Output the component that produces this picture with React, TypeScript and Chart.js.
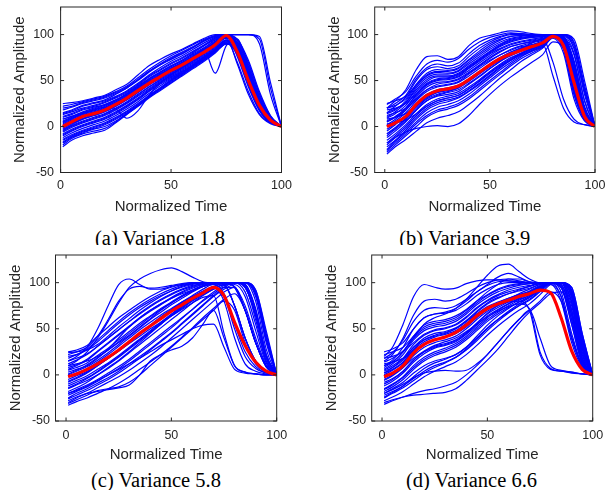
import React, { useEffect, useRef } from "react";
import { Chart, registerables } from "chart.js";

Chart.register(...registerables);

// ---------- data ----------
const TIME = [1, 5, 10, 15, 20, 25, 30, 35, 40, 45, 50, 55, 60, 65, 70, 75, 80, 85, 90, 95, 100];
const X_TICKS = [0, 50, 100];
const Y_TICKS = [-50, 0, 50, 100];
const Y_MIN = -50;
const Y_MAX = 130;
const X_MAX = 100;
const X_LABEL = "Normalized Time";
const Y_LABEL = "Normalized Amplitude";
const CAPTIONS = ["(a) Variance 1.8", "(b) Variance 3.9", "(c) Variance 5.8", "(d) Variance 6.6"];

const MEAN_A = [0, 5, 11, 14, 18, 24, 31, 39, 47, 54, 61, 67, 74, 81, 89, 99, 81, 50, 23, 7, 0];
const SAMPLES_A = [
  [25, 26, 28, 31, 34, 40, 46, 56, 66, 73, 79, 84, 90, 96, 100, 100, 80, 45, 18, 5, 0],
  [22, 24, 27, 30, 33, 38, 44, 53, 62, 70, 77, 83, 89, 95, 99, 100, 85, 55, 25, 8, 0],
  [18, 21, 25, 28, 31, 36, 42, 50, 59, 67, 74, 80, 86, 93, 98, 100, 92, 65, 32, 10, 0],
  [14, 17, 22, 25, 28, 33, 39, 47, 56, 64, 71, 77, 84, 91, 97, 100, 88, 58, 27, 8, 0],
  [11, 14, 19, 22, 26, 31, 37, 45, 54, 61, 68, 74, 81, 88, 95, 100, 84, 52, 22, 6, 0],
  [8, 11, 16, 20, 24, 29, 35, 43, 51, 58, 65, 71, 78, 85, 93, 96, 68, 35, 13, 3, 0],
  [5, 9, 14, 17, 21, 27, 33, 41, 49, 56, 63, 69, 76, 83, 91, 99, 76, 43, 17, 4, 0],
  [3, 7, 12, 15, 19, 25, 32, 40, 48, 55, 62, 68, 75, 82, 90, 100, 95, 72, 38, 12, 0],
  [1, 5, 11, 14, 18, 23, 30, 38, 46, 53, 60, 66, 73, 80, 88, 98, 86, 57, 27, 8, 0],
  [-2, 3, 8, 12, 16, 22, 29, 37, 45, 52, 59, 65, 72, 79, 87, 97, 84, 55, 26, 7, 0],
  [-4, 1, 6, 10, 14, 20, 27, 35, 43, 50, 57, 64, 71, 78, 86, 96, 89, 62, 30, 9, 0],
  [-6, -1, 4, 8, 12, 18, 25, 33, 41, 49, 56, 63, 70, 77, 85, 94, 70, 38, 14, 4, 0],
  [-8, -3, 2, 6, 10, 16, 23, 31, 40, 48, 55, 62, 69, 76, 84, 94, 92, 68, 35, 11, 0],
  [-10, -5, 0, 4, 8, 14, 21, 29, 38, 46, 53, 60, 67, 75, 83, 93, 85, 58, 28, 8, 0],
  [-12, -7, -2, 2, 6, 12, 19, 27, 36, 44, 52, 59, 66, 74, 82, 92, 90, 65, 33, 10, 0],
  [-14, -9, -4, 0, 4, 10, 17, 25, 34, 42, 50, 57, 65, 73, 81, 91, 78, 47, 19, 5, 0],
  [-17, -11, -6, -2, 2, 8, 15, 23, 32, 40, 48, 56, 64, 72, 81, 90, 87, 60, 29, 8, 0],
  [-20, -13, -8, -5, -2, 5, 14, 23, 33, 42, 51, 59, 67, 75, 83, 91, 83, 55, 25, 7, 0],
  [-22, -15, -10, -7, -4, 4, 13, 22, 32, 41, 50, 58, 66, 74, 82, 90, 80, 50, 22, 6, 0],
  [15, 18, 23, 26, 29, 35, 42, 51, 60, 67, 73, 79, 86, 93, 98, 100, 100, 100, 98, 48, 0],
  [5, 9, 14, 18, 22, 28, 35, 43, 52, 59, 66, 72, 80, 88, 96, 100, 100, 100, 95, 42, 0],
  [-5, 0, 5, 9, 13, 19, 26, 34, 43, 51, 58, 65, 73, 82, 92, 100, 100, 100, 90, 35, 0],
  [8, 11, 15, 18, 21, 19, 9, 17, 34, 47, 56, 64, 72, 80, 88, 98, 84, 54, 24, 7, 0],
  [-3, 2, 8, 12, 16, 22, 29, 37, 46, 53, 61, 68, 76, 83, 58, 88, 95, 65, 30, 9, 0],
  [4, 8, 13, 16, 20, 26, 33, 41, 49, 56, 63, 69, 76, 84, 92, 100, 90, 60, 28, 8, 0],
  [-1, 4, 9, 13, 17, 23, 30, 38, 47, 54, 61, 67, 74, 81, 89, 98, 82, 50, 22, 6, 0],
  [10, 13, 18, 21, 24, 29, 36, 44, 52, 59, 66, 72, 79, 86, 94, 100, 87, 55, 24, 7, 0],
  [-9, -4, 1, 5, 9, 15, 22, 30, 39, 47, 54, 61, 68, 76, 84, 94, 88, 60, 29, 9, 0],
  [13, 16, 20, 23, 27, 32, 38, 46, 55, 62, 69, 75, 82, 89, 96, 100, 94, 70, 36, 11, 0],
  [-15, -10, -5, -1, 3, 9, 16, 24, 33, 41, 49, 57, 65, 73, 82, 92, 86, 57, 26, 7, 0],
  [6, 10, 15, 19, 23, 28, 34, 42, 50, 57, 64, 70, 77, 84, 92, 100, 82, 50, 21, 6, 0],
  [20, 22, 26, 29, 32, 37, 43, 51, 60, 68, 75, 81, 87, 94, 99, 100, 90, 62, 30, 9, 0],
  [-18, -12, -7, -3, 0, 6, 14, 22, 31, 39, 47, 55, 63, 71, 80, 90, 85, 56, 26, 7, 0],
  [2, 6, 11, 15, 19, 24, 31, 39, 48, 55, 62, 68, 75, 82, 90, 99, 79, 46, 19, 5, 0],
];

const MEAN_B = [0, 4, 11, 24, 34, 39, 41, 44, 51, 59, 67, 74, 79, 83, 87, 91, 98, 88, 48, 11, 0];
const SAMPLES_B = [
  [20, 28, 40, 62, 76, 77, 73, 76, 88, 96, 99, 102, 104, 103, 101, 100, 100, 98, 70, 20, 0],
  [24, 30, 38, 55, 68, 72, 70, 74, 84, 92, 97, 100, 102, 101, 100, 100, 100, 100, 90, 42, 0],
  [15, 22, 32, 50, 62, 65, 63, 66, 76, 85, 92, 97, 100, 100, 99, 99, 99, 90, 48, 12, 0],
  [25, 28, 33, 45, 56, 60, 60, 63, 72, 80, 88, 94, 98, 99, 99, 99, 100, 96, 65, 18, 0],
  [10, 16, 26, 42, 53, 57, 57, 60, 68, 76, 84, 90, 95, 97, 98, 99, 99, 85, 35, 8, 0],
  [18, 20, 25, 36, 47, 52, 53, 56, 64, 72, 80, 87, 92, 95, 97, 98, 100, 100, 92, 45, 0],
  [5, 10, 20, 34, 45, 50, 51, 54, 61, 69, 77, 84, 89, 92, 94, 96, 99, 93, 50, 12, 0],
  [12, 15, 20, 30, 40, 46, 48, 51, 58, 66, 74, 81, 87, 90, 93, 95, 100, 98, 72, 22, 0],
  [0, 6, 15, 28, 38, 43, 45, 48, 55, 63, 71, 78, 84, 88, 91, 94, 99, 90, 45, 10, 0],
  [-5, 2, 12, 25, 35, 40, 42, 45, 52, 60, 68, 75, 81, 86, 89, 92, 98, 88, 40, 9, 0],
  [8, 10, 14, 22, 31, 37, 40, 43, 50, 58, 66, 73, 79, 84, 88, 92, 100, 97, 68, 20, 0],
  [-10, -3, 6, 18, 28, 34, 37, 40, 47, 55, 63, 71, 78, 83, 87, 91, 99, 95, 60, 16, 0],
  [-15, -8, 2, 14, 24, 30, 33, 36, 43, 51, 60, 68, 75, 80, 85, 89, 97, 86, 38, 8, 0],
  [-20, -12, -2, 10, 20, 26, 29, 32, 39, 47, 56, 65, 72, 78, 83, 88, 99, 99, 85, 38, 0],
  [3, 4, 7, 14, 22, 28, 31, 34, 41, 50, 59, 67, 74, 80, 85, 90, 100, 92, 50, 12, 0],
  [-25, -16, -6, 5, 15, 21, 24, 28, 35, 44, 53, 62, 70, 77, 82, 87, 98, 90, 46, 11, 0],
  [-28, -20, -10, 0, 10, 16, 19, 23, 30, 39, 48, 57, 66, 74, 80, 86, 97, 84, 35, 7, 0],
  [-30, -22, -14, -5, 4, 9, 12, 16, 24, 33, 43, 53, 62, 71, 78, 85, 96, 80, 30, 6, 0],
  [-18, -12, -6, -2, 0, 1, 0, 3, 12, 24, 35, 45, 54, 62, 70, 78, 92, 85, 40, 9, 0],
  [5, 10, 18, 30, 40, 44, 46, 49, 57, 65, 72, 78, 83, 87, 88, 90, 55, 20, 5, 2, 0],
  [-8, -2, 8, 20, 30, 35, 38, 42, 50, 58, 66, 73, 79, 85, 91, 95, 70, 30, 8, 2, 0],
  [20, 25, 34, 52, 64, 68, 66, 69, 79, 88, 94, 98, 101, 101, 100, 100, 100, 100, 95, 50, 0],
  [-22, -15, -4, 8, 18, 24, 27, 31, 38, 46, 55, 64, 72, 79, 84, 89, 99, 97, 78, 28, 0],
  [14, 18, 28, 44, 55, 59, 58, 61, 70, 78, 86, 92, 96, 98, 99, 100, 100, 95, 58, 15, 0],
  [2, 8, 18, 32, 43, 48, 49, 52, 59, 67, 75, 82, 87, 90, 92, 95, 99, 95, 58, 15, 0],
  [-12, -5, 5, 18, 28, 33, 35, 38, 46, 54, 63, 71, 77, 82, 86, 90, 99, 96, 65, 18, 0],
  [9, 14, 23, 38, 49, 54, 54, 57, 65, 73, 81, 88, 93, 96, 97, 98, 100, 97, 62, 16, 0],
  [-3, 3, 12, 24, 34, 39, 41, 44, 51, 59, 67, 75, 81, 85, 89, 93, 100, 98, 70, 20, 0],
  [20, 23, 30, 46, 58, 62, 61, 64, 73, 82, 90, 95, 98, 99, 99, 100, 100, 99, 80, 28, 0],
  [-18, -10, 0, 12, 22, 28, 31, 34, 41, 49, 58, 66, 73, 79, 84, 89, 98, 92, 52, 13, 0],
  [6, 11, 20, 35, 46, 51, 52, 55, 63, 71, 79, 85, 90, 93, 95, 97, 100, 100, 85, 35, 0],
  [-8, -1, 9, 22, 32, 37, 39, 42, 49, 57, 65, 72, 78, 83, 87, 91, 99, 94, 55, 14, 0],
  [15, 19, 26, 40, 51, 55, 55, 58, 66, 74, 82, 89, 94, 96, 98, 99, 100, 100, 88, 40, 0],
  [-26, -18, -8, 3, 12, 18, 21, 25, 32, 41, 50, 59, 68, 76, 82, 87, 98, 93, 55, 14, 0],
];

const MEAN_C = [-2, 1, 6, 12, 19, 27, 36, 45, 53, 61, 69, 76, 83, 89, 95, 86, 57, 32, 14, 4, 0];
const SAMPLES_C = [
  [10, 15, 25, 40, 58, 78, 95, 104, 110, 114, 116, 112, 106, 101, 100, 100, 100, 100, 90, 42, 0],
  [15, 20, 30, 50, 75, 98, 104, 98, 93, 93, 96, 98, 99, 100, 100, 100, 100, 97, 65, 18, 0],
  [22, 25, 30, 42, 60, 80, 93, 96, 94, 95, 97, 99, 100, 100, 100, 100, 100, 98, 70, 22, 0],
  [25, 27, 32, 42, 52, 62, 70, 78, 85, 91, 95, 98, 100, 100, 100, 100, 100, 100, 88, 40, 0],
  [18, 22, 28, 38, 48, 58, 67, 75, 82, 88, 93, 97, 99, 100, 100, 100, 95, 70, 35, 9, 0],
  [24, 25, 27, 33, 42, 52, 61, 70, 78, 85, 91, 96, 99, 100, 100, 100, 100, 95, 65, 20, 0],
  [12, 16, 22, 31, 40, 49, 58, 66, 74, 81, 87, 92, 96, 99, 100, 98, 75, 40, 15, 4, 0],
  [8, 11, 17, 26, 35, 44, 53, 62, 70, 77, 84, 90, 95, 98, 100, 100, 100, 100, 88, 40, 0],
  [5, 8, 13, 21, 29, 38, 47, 56, 64, 72, 79, 86, 92, 97, 100, 100, 95, 70, 35, 9, 0],
  [0, 4, 9, 16, 24, 33, 42, 51, 60, 68, 76, 83, 90, 96, 100, 100, 100, 95, 65, 20, 0],
  [-5, -1, 4, 11, 18, 27, 36, 45, 54, 63, 71, 79, 86, 93, 98, 97, 75, 40, 15, 4, 0],
  [-10, -6, -1, 6, 13, 21, 30, 39, 48, 57, 66, 75, 83, 90, 95, 80, 40, 12, 4, 1, 0],
  [-15, -11, -6, 0, 7, 15, 24, 33, 42, 51, 60, 69, 78, 86, 93, 98, 75, 40, 15, 4, 0],
  [-20, -16, -11, -5, 2, 9, 17, 26, 35, 44, 53, 62, 71, 80, 88, 95, 95, 70, 35, 9, 0],
  [-25, -20, -15, -9, -3, 4, 12, 20, 28, 37, 46, 56, 66, 76, 86, 95, 100, 95, 65, 20, 0],
  [-30, -25, -20, -14, -8, -2, 5, 13, 21, 30, 40, 50, 60, 70, 80, 90, 95, 70, 35, 9, 0],
  [-33, -29, -25, -20, -15, -9, -2, 6, 14, 22, 31, 41, 51, 62, 72, 82, 88, 70, 35, 9, 0],
  [-28, -24, -20, -18, -16, -14, -11, 0, 15, 22, 27, 31, 40, 55, 70, 40, 10, 3, 1, 0, 0],
  [-8, -4, 2, 10, 18, 26, 34, 42, 50, 57, 64, 71, 78, 84, 86, 45, 10, 3, 1, 0, 0],
  [-20, -17, -12, -6, 0, 6, 12, 18, 25, 32, 38, 44, 50, 54, 55, 30, 6, 2, 1, 0, 0],
  [3, 6, 10, 18, 28, 40, 52, 62, 70, 77, 83, 88, 92, 96, 99, 100, 100, 100, 92, 45, 0],
  [-12, -8, -3, 4, 12, 20, 29, 38, 47, 56, 65, 74, 82, 89, 95, 100, 100, 98, 70, 22, 0],
  [10, 12, 15, 20, 27, 35, 43, 52, 61, 70, 78, 85, 91, 96, 98, 88, 55, 25, 9, 2, 0],
  [-2, 2, 7, 14, 22, 31, 40, 49, 57, 65, 72, 79, 85, 90, 94, 85, 50, 20, 7, 2, 0],
  [-31, -27, -22, -17, -15, -13, -8, 0, 10, 20, 30, 40, 50, 60, 70, 80, 70, 35, 12, 3, 0],
  [-18, -14, -8, 0, 8, 16, 25, 35, 45, 55, 64, 73, 81, 88, 94, 98, 100, 100, 85, 35, 0],
  [6, 10, 16, 25, 34, 43, 52, 61, 69, 76, 83, 89, 94, 98, 100, 100, 100, 98, 72, 22, 0],
  [-7, -3, 3, 10, 18, 26, 35, 44, 53, 62, 70, 78, 85, 91, 96, 99, 96, 75, 40, 11, 0],
  [15, 18, 23, 31, 40, 49, 58, 67, 75, 82, 88, 93, 97, 99, 100, 100, 100, 100, 92, 48, 0],
  [-14, -10, -4, 3, 11, 19, 28, 37, 46, 55, 64, 72, 80, 87, 93, 98, 100, 90, 55, 15, 0],
  [1, 5, 11, 19, 27, 36, 45, 54, 63, 71, 78, 85, 91, 96, 99, 100, 100, 100, 80, 28, 0],
  [-22, -18, -13, -7, 0, 7, 15, 24, 33, 42, 51, 61, 71, 81, 90, 97, 100, 100, 88, 38, 0],
  [20, 22, 27, 36, 46, 56, 65, 73, 80, 86, 91, 95, 98, 100, 100, 100, 100, 96, 60, 15, 0],
  [-26, -22, -17, -11, -5, 2, 10, 18, 27, 36, 45, 55, 65, 75, 85, 93, 98, 85, 48, 13, 0],
];

const MEAN_D = [-2, 2, 10, 24, 33, 38, 41, 46, 54, 64, 72, 77, 81, 85, 88, 92, 89, 62, 26, 6, 0];
const SAMPLES_D = [
  [20, 30, 55, 85, 98, 95, 93, 94, 99, 102, 103, 103, 102, 101, 100, 100, 100, 100, 85, 30, 0],
  [15, 22, 40, 65, 80, 82, 80, 82, 88, 95, 100, 103, 104, 102, 100, 100, 100, 95, 60, 15, 0],
  [10, 14, 25, 40, 55, 62, 66, 72, 82, 95, 108, 118, 120, 112, 104, 100, 100, 100, 75, 22, 0],
  [25, 28, 35, 50, 62, 66, 68, 72, 80, 90, 98, 106, 110, 106, 101, 100, 100, 100, 85, 30, 0],
  [22, 25, 30, 42, 52, 56, 58, 62, 70, 80, 90, 98, 104, 104, 101, 100, 100, 95, 55, 12, 0],
  [8, 14, 25, 42, 54, 58, 60, 64, 71, 80, 87, 93, 97, 99, 100, 100, 100, 85, 40, 10, 0],
  [18, 20, 25, 35, 44, 49, 51, 55, 63, 73, 81, 87, 92, 95, 97, 99, 100, 100, 70, 18, 0],
  [4, 8, 16, 30, 40, 45, 47, 51, 59, 69, 78, 84, 88, 91, 94, 98, 100, 100, 88, 35, 0],
  [0, 5, 13, 27, 36, 41, 44, 48, 56, 66, 74, 79, 83, 87, 90, 96, 100, 90, 45, 10, 0],
  [12, 14, 18, 26, 33, 38, 41, 45, 52, 62, 71, 77, 82, 86, 90, 96, 100, 100, 80, 25, 0],
  [-6, -1, 8, 21, 30, 35, 38, 42, 50, 60, 69, 75, 80, 84, 88, 95, 98, 80, 35, 8, 0],
  [-12, -7, 2, 14, 23, 29, 32, 36, 44, 54, 64, 71, 77, 82, 86, 93, 100, 100, 70, 18, 0],
  [-18, -13, -5, 6, 15, 21, 25, 30, 38, 48, 58, 66, 73, 79, 84, 92, 100, 95, 55, 12, 0],
  [-24, -19, -12, -2, 7, 13, 17, 22, 30, 40, 51, 60, 68, 75, 81, 90, 98, 85, 40, 10, 0],
  [-28, -24, -18, -10, -2, 4, 9, 14, 22, 32, 43, 53, 62, 70, 77, 87, 98, 100, 80, 25, 0],
  [-32, -28, -24, -20, -17, -15, -12, -8, 0, 10, 22, 35, 48, 60, 70, 80, 90, 80, 40, 10, 0],
  [-30, -27, -24, -22, -21, -20, -19, -15, -6, 5, 16, 28, 42, 56, 68, 78, 88, 90, 65, 18, 0],
  [-5, 0, 8, 18, 26, 32, 36, 40, 47, 55, 63, 69, 74, 77, 72, 25, 7, 4, 3, 1, 0],
  [5, 10, 18, 30, 38, 42, 45, 50, 58, 66, 72, 76, 79, 80, 70, 22, 6, 4, 2, 1, 0],
  [-20, -16, -10, -3, 2, 4, 5, 4, 5, 12, 22, 35, 48, 60, 70, 40, 10, 5, 3, 1, 0],
  [-15, -10, -2, 10, 19, 25, 29, 34, 42, 52, 62, 70, 77, 83, 88, 95, 100, 100, 92, 40, 0],
  [2, 6, 14, 28, 38, 43, 46, 50, 58, 68, 77, 83, 88, 92, 96, 100, 100, 100, 95, 45, 0],
  [-25, -20, -14, -6, 2, 8, 13, 19, 28, 39, 50, 60, 69, 77, 84, 92, 100, 100, 85, 28, 0],
  [10, 16, 30, 50, 62, 66, 67, 70, 77, 86, 93, 98, 100, 100, 100, 100, 100, 98, 65, 15, 0],
  [-8, -4, 4, 16, 25, 30, 33, 37, 45, 56, 67, 75, 82, 88, 93, 98, 100, 100, 90, 35, 0],
  [-20, -15, -8, 2, 10, 15, 18, 22, 30, 42, 54, 64, 72, 79, 85, 93, 100, 96, 60, 14, 0],
  [6, 12, 22, 38, 48, 52, 54, 58, 66, 76, 84, 90, 94, 97, 99, 100, 100, 100, 85, 30, 0],
  [-3, 2, 11, 24, 33, 38, 41, 45, 53, 63, 72, 78, 83, 87, 91, 97, 100, 98, 65, 17, 0],
  [14, 18, 26, 40, 50, 54, 56, 60, 68, 78, 86, 92, 96, 98, 99, 100, 100, 100, 92, 42, 0],
  [-10, -5, 4, 16, 25, 31, 34, 38, 46, 56, 66, 73, 79, 84, 88, 95, 100, 100, 78, 22, 0],
  [18, 24, 38, 58, 70, 73, 72, 75, 82, 90, 97, 101, 102, 101, 100, 100, 100, 100, 90, 38, 0],
  [-16, -11, -3, 8, 17, 23, 27, 32, 40, 50, 60, 68, 75, 81, 86, 94, 100, 100, 88, 32, 0],
  [2, 8, 18, 33, 43, 48, 50, 54, 62, 72, 80, 86, 90, 93, 96, 99, 100, 100, 95, 45, 0],
  [-22, -18, -12, -4, 4, 10, 14, 19, 27, 37, 48, 58, 67, 75, 82, 91, 99, 97, 70, 18, 0],
];

// ---------- layout / style ----------
const AXIS_COLOR = "#262626";
const SANS = "'Liberation Sans', Arial, Helvetica, sans-serif";
const SERIF = "'Liberation Serif', 'Times New Roman', serif";
const TICK_FONT = 12.5;
const TITLE_FONT = 15;
const CAPTION_FONT = 20.5;

type Layout = {
  left: number; top: number; width: number; height: number;
  padTop: number; padRight: number; yAxisWidth: number; xAxisHeight: number;
  xMin: number; yTitlePad: number; xTitlePad: number; yTickPad: number; xTickPad: number;
  capCenter: number; capBaseline: number; capClip: number;
};

const PANELS: { mean: number[]; samples: number[][]; caption: string; layout: Layout }[] = [
  {
    mean: MEAN_A, samples: SAMPLES_A, caption: CAPTIONS[0],
    layout: { left: 0, top: 0, width: 300, height: 225, padTop: 7, padRight: 18.5, yAxisWidth: 60.6, xAxisHeight: 52.5,
      xMin: 0, yTitlePad: 10.5, xTitlePad: 9.3, yTickPad: 6.6, xTickPad: 5.3, capCenter: 160, capBaseline: 244.7, capClip: 245 },
  },
  {
    mean: MEAN_B, samples: SAMPLES_B, caption: CAPTIONS[1],
    layout: { left: 304, top: 0, width: 304, height: 225, padTop: 7, padRight: 13, yAxisWidth: 70.7, xAxisHeight: 52.5,
      xMin: -4.8, yTitlePad: 21.8, xTitlePad: 9.3, yTickPad: 6.7, xTickPad: 5.3, capCenter: 464.8, capBaseline: 244.7, capClip: 245 },
  },
  {
    mean: MEAN_C, samples: SAMPLES_C, caption: CAPTIONS[2],
    layout: { left: 0, top: 245, width: 300, height: 225, padTop: 10, padRight: 23.3, yAxisWidth: 55.5, xAxisHeight: 49,
      xMin: -5, yTitlePad: 6.8, xTitlePad: 6.3, yTickPad: 5.5, xTickPad: 7, capCenter: 156, capBaseline: 486.7, capClip: 490 },
  },
  {
    mean: MEAN_D, samples: SAMPLES_D, caption: CAPTIONS[3],
    layout: { left: 304, top: 245, width: 304, height: 225, padTop: 10, padRight: 15.3, yAxisWidth: 67.7, xAxisHeight: 49,
      xMin: -4.9, yTitlePad: 18.5, xTitlePad: 6.3, yTickPad: 5.5, xTickPad: 7, capCenter: 471.5, capBaseline: 487, capClip: 490 },
  },
];

const boxPlugin = {
  id: "matlabBox",
  afterDatasetsDraw(chart: any) {
    const { ctx, chartArea: a, scales } = chart;
    const L = 3.5;
    ctx.save();
    ctx.strokeStyle = AXIS_COLOR;
    ctx.lineWidth = 1;
    ctx.strokeRect(a.left, a.top, a.right - a.left, a.bottom - a.top);
    ctx.beginPath();
    for (const v of X_TICKS) {
      const px = scales.x.getPixelForValue(v);
      ctx.moveTo(px, a.bottom);
      ctx.lineTo(px, a.bottom - L);
      ctx.moveTo(px, a.top);
      ctx.lineTo(px, a.top + L);
    }
    for (const v of Y_TICKS) {
      const py = scales.y.getPixelForValue(v);
      ctx.moveTo(a.left, py);
      ctx.lineTo(a.left + L, py);
      ctx.moveTo(a.right, py);
      ctx.lineTo(a.right - L, py);
    }
    ctx.stroke();
    ctx.restore();
  },
};

const toPoints = (vals: number[]) => vals.map((y, i) => ({ x: TIME[i], y }));

function Panel({ mean, samples, layout }: { mean: number[]; samples: number[][]; layout: Layout }) {
  const ref = useRef<HTMLCanvasElement | null>(null);
  useEffect(() => {
    if (!ref.current) return;
    const lineCommon = { pointRadius: 0, fill: false, cubicInterpolationMode: "monotone" as const };
    const datasets: any[] = [
      { data: toPoints(mean), borderColor: "#ff0000", borderWidth: 3.2, ...lineCommon },
      ...samples.map((s) => ({ data: toPoints(s), borderColor: "#0000ff", borderWidth: 1.2, ...lineCommon })),
    ];
    const chart = new Chart(ref.current, {
      type: "line",
      data: { datasets },
      plugins: [boxPlugin],
      options: {
        animation: false,
        responsive: false,
        maintainAspectRatio: false,
        devicePixelRatio: 1,
        events: [],
        layout: { padding: { top: layout.padTop, right: layout.padRight, left: 0, bottom: 0 } },
        plugins: { legend: { display: false }, tooltip: { enabled: false } },
        scales: {
          x: {
            type: "linear",
            min: layout.xMin,
            max: X_MAX,
            afterBuildTicks: (s: any) => { s.ticks = X_TICKS.map((v) => ({ value: v })); },
            afterFit: (s: any) => { s.height = layout.xAxisHeight; s.paddingLeft = 0; s.paddingRight = 0; },
            grid: { display: false, drawTicks: false },
            border: { display: false },
            ticks: { padding: layout.xTickPad, color: AXIS_COLOR, font: { family: SANS, size: TICK_FONT }, maxRotation: 0, autoSkip: false },
            title: { display: true, text: X_LABEL, color: AXIS_COLOR, font: { family: SANS, size: TITLE_FONT }, padding: { top: 0, bottom: layout.xTitlePad } },
          },
          y: {
            type: "linear",
            min: Y_MIN,
            max: Y_MAX,
            afterBuildTicks: (s: any) => { s.ticks = Y_TICKS.map((v) => ({ value: v })); },
            afterFit: (s: any) => { s.width = layout.yAxisWidth; s.paddingTop = 0; s.paddingBottom = 0; },
            grid: { display: false, drawTicks: false },
            border: { display: false },
            ticks: { padding: layout.yTickPad, color: AXIS_COLOR, font: { family: SANS, size: TICK_FONT }, autoSkip: false },
            title: { display: true, text: Y_LABEL, color: AXIS_COLOR, font: { family: SANS, size: TITLE_FONT }, padding: { top: layout.yTitlePad, bottom: 0 } },
          },
        },
      } as any,
    });
    return () => chart.destroy();
  }, [mean, samples, layout]);
  return (
    <canvas
      ref={ref}
      width={layout.width}
      height={layout.height}
      style={{ position: "absolute", left: layout.left, top: layout.top, width: layout.width, height: layout.height }}
    />
  );
}

export default function App() {
  return (
    <div style={{ position: "absolute", left: 0, top: 0, width: 608, height: 490, background: "#fff", overflow: "hidden" }}>
      {PANELS.map((p, i) => (
        <Panel key={i} mean={p.mean} samples={p.samples} layout={p.layout} />
      ))}
      {PANELS.map((p, i) => {
        const top = p.layout.capBaseline - 0.8375 * CAPTION_FONT;
        return (
          <div
            key={"c" + i}
            style={{
              position: "absolute",
              left: p.layout.capCenter - 110,
              width: 220,
              top,
              height: p.layout.capClip - top,
              overflow: "hidden",
              textAlign: "center",
              fontFamily: SERIF,
              fontSize: CAPTION_FONT,
              lineHeight: CAPTION_FONT + "px",
              color: "#000",
              whiteSpace: "nowrap",
            }}
          >
            {p.caption}
          </div>
        );
      })}
    </div>
  );
}
